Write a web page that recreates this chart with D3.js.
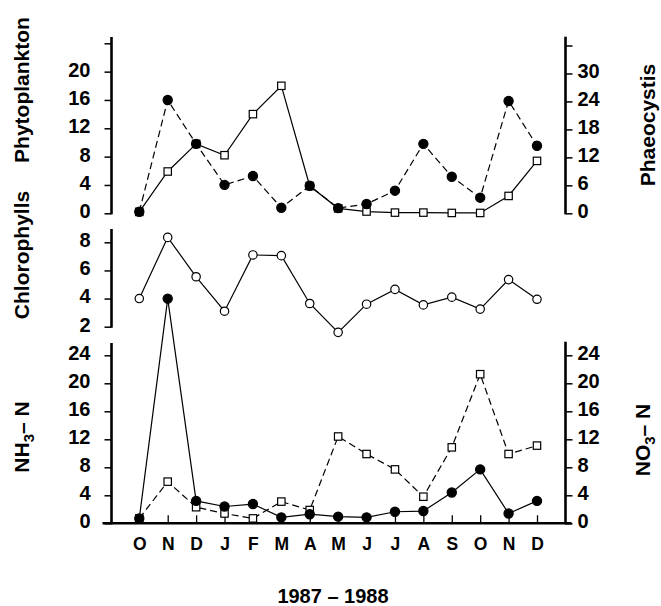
<!DOCTYPE html>
<html>
<head>
<meta charset="utf-8">
<script src="https://cdn.jsdelivr.net/npm/d3@7"></script>
<style>
  body { margin: 0; background: #fff; }
  svg { display: block; font-family: "Liberation Sans", Arial, sans-serif; font-weight: bold; }
</style>
</head>
<body>
<div id="chart"></div>
<script>
const months = ['O', 'N', 'D', 'J', 'F', 'M', 'A', 'M', 'J', 'J', 'A', 'S', 'O', 'N', 'D'];

// top panel: Phytoplankton (left, open squares) and Phaeocystis (right, filled circles)
const phytoplankton = [0.2, 5.9, 9.8, 8.2, 14.0, 18.0, 3.85, 0.7, 0.25, 0.1, 0.1, 0.05, 0.05, 2.45, 7.4];
const phaeocystis = [0.34, 24.3, 14.9, 6.1, 8.0, 1.2, 5.9, 1.1, 2.0, 4.85, 14.9, 7.85, 3.35, 24.1, 14.5];
// middle panel
const chlorophylls = [4.0, 8.35, 5.55, 3.1, 7.1, 7.05, 3.65, 1.6, 3.6, 4.65, 3.55, 4.1, 3.25, 5.35, 3.95];
// bottom panel: NH3-N (left, filled circles) and NO3-N (right, open squares)
const nh3 = [0.7, 32.1, 3.2, 2.4, 2.75, 0.85, 1.3, 0.95, 0.85, 1.65, 1.75, 4.4, 7.7, 1.4, 3.2];
const no3 = [0.7, 5.95, 2.3, 1.4, 0.7, 3.1, 1.9, 12.4, 9.9, 7.7, 3.8, 10.85, 21.3, 9.9, 11.1];

const phytoTicks = [0, 4, 8, 12, 16, 20, 24];
const phaeoTicks = [0, 6, 12, 18, 24, 30, 36];
const chloroTicks = [2, 4, 6, 8];
const nTicks = [0, 4, 8, 12, 16, 20, 24];
const yearLabel = '1987 \u2013 1988';

const width = 661;
const height = 606;
const leftX = 111.5;
const rightX = 565.5;

const svg = d3.select('#chart').append('svg')
  .attr('width', width)
  .attr('height', height);

const x = d3.scalePoint().domain(d3.range(months.length)).range([139.3, 537]);

const yPhyto = d3.scaleLinear().domain([0, 24]).range([213.3, 43.3]);
const yPhaeo = d3.scaleLinear().domain([0, 36]).range([213.3, 45.5]);
const yChloro = d3.scaleLinear().domain([2, 8]).range([326.7, 242.3]);
const yN = d3.scaleLinear().domain([0, 24]).range([523.3, 355.3]);

function leftAxis(scale, ticks, top, fmt) {
  const g = svg.append('g')
    .attr('transform', `translate(${leftX},0)`)
    .call(d3.axisLeft(scale).tickValues(ticks).tickSize(7).tickSizeOuter(0).tickPadding(14)
      .tickFormat(fmt || (d => d)));
  g.select('.domain').remove();
  g.selectAll('.tick line').attr('stroke-width', 1.5);
  g.selectAll('.tick text').attr('font-size', 20).attr('dy', '0.22em').attr('fill', '#000');
  g.append('line')
    .attr('y1', top).attr('y2', scale.range()[0] + 1)
    .attr('stroke', '#000').attr('stroke-width', 2.6);
}

function rightAxis(scale, ticks, top, fmt) {
  const g = svg.append('g')
    .attr('transform', `translate(${rightX},0)`)
    .call(d3.axisRight(scale).tickValues(ticks).tickSize(7).tickSizeOuter(0).tickPadding(5)
      .tickFormat(fmt || (d => d)));
  g.select('.domain').remove();
  g.selectAll('.tick line').attr('stroke-width', 1.5);
  g.selectAll('.tick text').attr('font-size', 20).attr('dy', '0.2em').attr('fill', '#000');
  g.append('line')
    .attr('y1', top).attr('y2', scale.range()[0] + 1)
    .attr('stroke', '#000').attr('stroke-width', 2.6);
}

leftAxis(yPhyto, phytoTicks, 37, d => d === 24 ? '' : d);
rightAxis(yPhaeo, phaeoTicks, 36.7, d => d === 36 ? '' : d);
leftAxis(yChloro, chloroTicks, 229);
leftAxis(yN, nTicks, 343);
rightAxis(yN, nTicks, 341.7);

// bottom month axis
const xAxis = svg.append('g')
  .attr('transform', `translate(0,${yN(0)})`)
  .call(d3.axisBottom(x).tickSize(-8).tickSizeOuter(0).tickPadding(14).tickFormat(i => months[i]));
xAxis.select('.domain').remove();
xAxis.selectAll('.tick line').attr('stroke-width', 1.3);
xAxis.selectAll('.tick text').attr('font-size', 17.5).attr('fill', '#000');
xAxis.append('line')
  .attr('x1', leftX - 9).attr('x2', rightX + 6)
  .attr('stroke', '#000').attr('stroke-width', 2.6);

function series(values, y, dashed) {
  svg.append('path')
    .datum(values)
    .attr('fill', 'none')
    .attr('stroke', '#000')
    .attr('stroke-width', 1.2)
    .attr('stroke-dasharray', dashed ? '7,4' : null)
    .attr('d', d3.line().x((d, i) => x(i)).y(d => y(d)));
}

function squares(values, y) {
  svg.append('g').selectAll('rect')
    .data(values)
    .join('rect')
    .attr('x', (d, i) => x(i) - 3.7)
    .attr('y', d => y(d) - 3.7)
    .attr('width', 7.4)
    .attr('height', 7.4)
    .attr('fill', '#fff')
    .attr('stroke', '#000')
    .attr('stroke-width', 1.2);
}

function dots(values, y, filled) {
  svg.append('g').selectAll('circle')
    .data(values)
    .join('circle')
    .attr('cx', (d, i) => x(i))
    .attr('cy', d => y(d))
    .attr('r', filled ? 4.6 : 4.2)
    .attr('fill', filled ? '#000' : '#fff')
    .attr('stroke', '#000')
    .attr('stroke-width', 1.2);
}

// top panel
series(phytoplankton, yPhyto, false);
series(phaeocystis, yPhaeo, true);
squares(phytoplankton, yPhyto);
dots(phaeocystis, yPhaeo, true);

// middle panel
series(chlorophylls, yChloro, false);
dots(chlorophylls, yChloro, false);

// bottom panel
series(nh3, yN, false);
series(no3, yN, true);
squares(no3, yN);
dots(nh3, yN, true);

// titles
function vTitle(tx, ty, parts) {
  const t = svg.append('text')
    .attr('transform', `translate(${tx},${ty}) rotate(-90)`)
    .attr('text-anchor', 'middle')
    .attr('font-size', 21)
    .attr('fill', '#000');
  parts.forEach(p => {
    const s = t.append('tspan').text(p.text);
    if (p.sub) s.attr('font-size', 15).attr('dy', '0.35em');
    if (p.back) s.attr('dy', '-0.25em');
  });
}

vTitle(29, 90, [{ text: 'Phytoplankton' }]);
vTitle(29, 255, [{ text: 'Chlorophylls' }]);
vTitle(29, 437, [{ text: 'NH' }, { text: '3', sub: true }, { text: '\u2013 N', back: true }]);
vTitle(655, 125, [{ text: 'Phaeocystis' }]);
vTitle(650, 440, [{ text: 'NO' }, { text: '3', sub: true }, { text: '\u2013 N', back: true }]);

svg.append('text')
  .attr('x', 333)
  .attr('y', 603)
  .attr('text-anchor', 'middle')
  .attr('font-size', 20)
  .attr('fill', '#000')
  .text(yearLabel);
</script>
</body>
</html>
